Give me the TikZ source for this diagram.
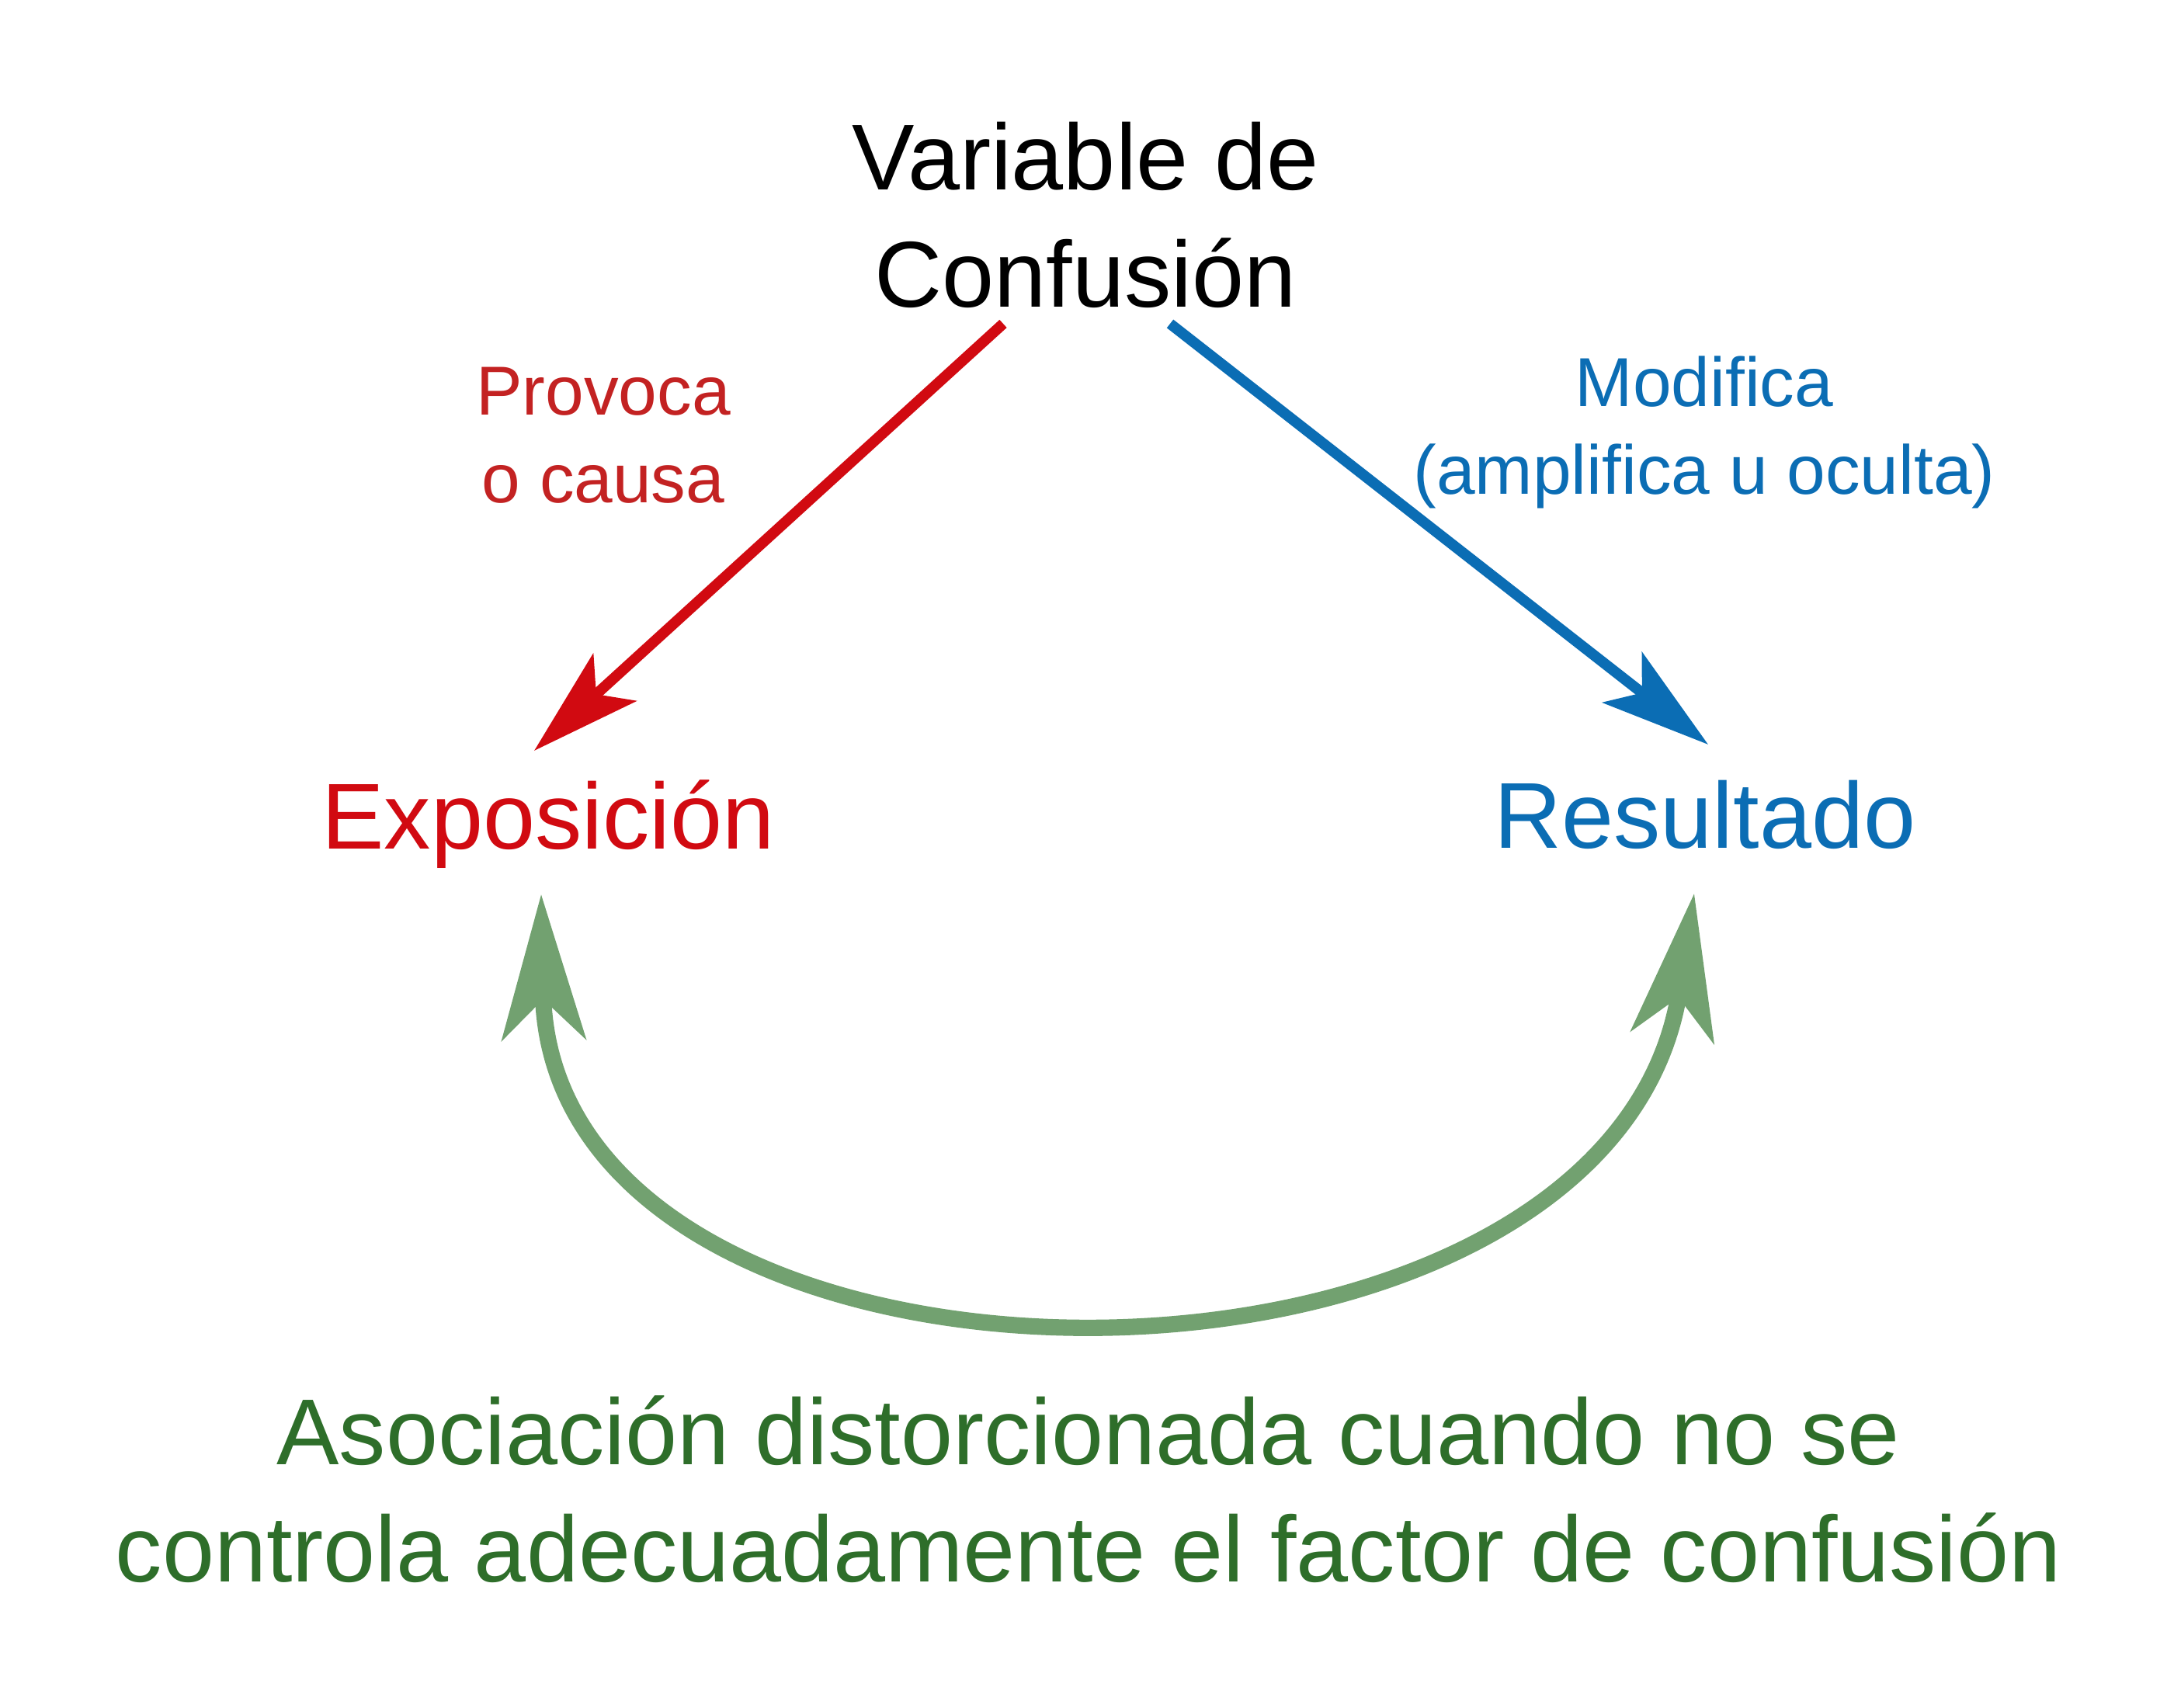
\documentclass[tikz,border=0pt]{standalone}
\usepackage{fontspec}
\setmainfont{Liberation Sans}
\usetikzlibrary{arrows.meta}
\definecolor{expred}{HTML}{D10A11}
\definecolor{provred}{HTML}{C32222}
\definecolor{resblue}{HTML}{0B6DB4}
\definecolor{arcgreen}{HTML}{72A170}
\definecolor{txtgreen}{HTML}{2E6E2A}

\begin{document}
\begin{tikzpicture}[big/.style = {font=\fontsize{34.3}{43}\selectfont, align=center, anchor=base},
		small/.style = {font=\fontsize{25.4}{32.4}\selectfont, align=center, anchor=base},
		thin/.style = {line width=3.9pt, -{Stealth[length=14mm, width=8.2mm, inset=3.2mm]}},
		thick/.style = {line width=6pt, arcgreen, {Stealth[length=18.7mm, width=10.8mm, inset=5.2mm]}-{Stealth[length=18.7mm, width=10.8mm, inset=5.2mm]}}]
			\useasboundingbox (0,0) rectangle (28,22);
			\node[big] (vc) at (13.98,18.04) {Variable de\\Confusión};
			\node[big, expred] (ex) at (7.06,11.06) {Exposición};
			\node[big, resblue] (res) at (21.96,11.07) {Resultado};
			\node[small, provred] (prov) at (7.77,15.52) {Provoca\\o causa};
			\node[small, resblue] (mod) at (21.95,15.63) {Modifica\\(amplifica u oculta)};
			\node[big, txtgreen] (asoc) at (14.02,1.62) {Asociación distorcionada cuando no se\\controla adecuadamente el factor de confusión};
			\coordinate (r1) at (12.92,17.83);
			\coordinate (r2) at (6.88,12.33);
			\coordinate (b1) at (15.07,17.83);
			\coordinate (b2) at (22.00,12.41);
			\coordinate (g1) at (6.97,10.48);
			\coordinate (g2) at (21.82,10.49);
			\draw[thin, expred] (r1) -- (r2);
			\draw[thin, resblue] (b1) -- (b2);
			\draw[thick] (g1) .. controls (7.1,3.45) and (20.75,3.45) .. (g2);
		\end{tikzpicture}
\end{document}
